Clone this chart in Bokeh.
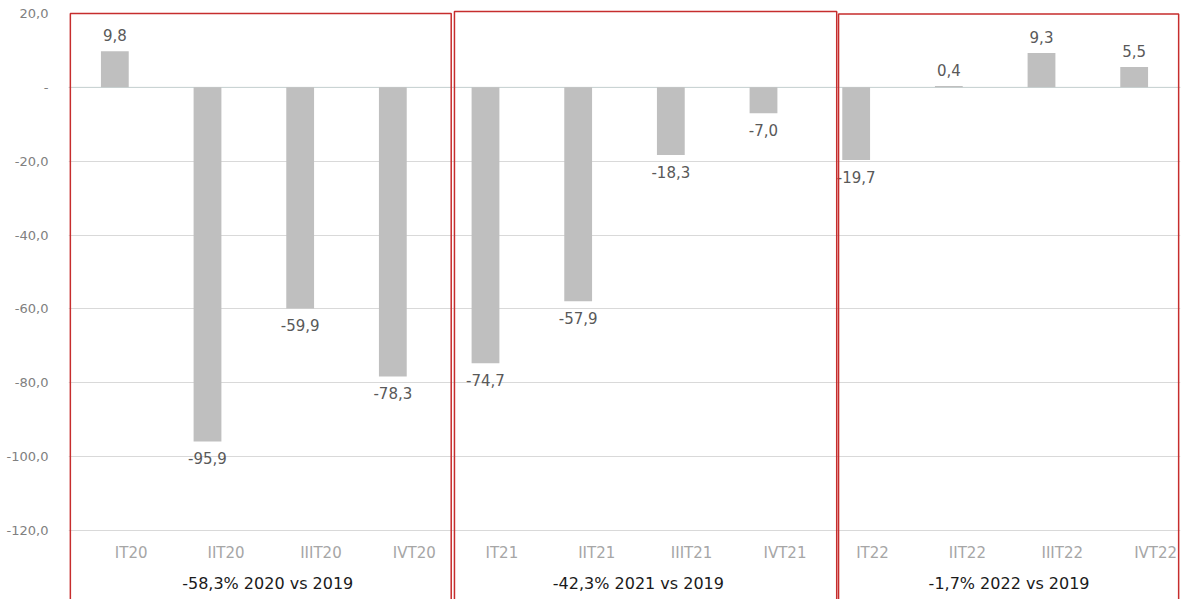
from bokeh.plotting import figure
from bokeh.models import Range1d, FixedTicker, ColumnDataSource
from bokeh.embed import file_html
from bokeh.resources import INLINE
from bokeh.core.properties import value

categories = ["IT20", "IIT20", "IIIT20", "IVT20",
              "IT21", "IIT21", "IIIT21", "IVT21",
              "IT22", "IIT22", "IIIT22", "IVT22"]
values = [9.8, -95.9, -59.9, -78.3,
          -74.7, -57.9, -18.3, -7.0,
          -19.7, 0.4, 9.3, 5.5]
group_labels = ["-58,3% 2020 vs 2019", "-42,3% 2021 vs 2019", "-1,7% 2022 vs 2019"]
y_ticks = [20, 0, -20, -40, -60, -80, -100, -120]
y_tick_labels = ["20,0", "-", "-20,0", "-40,0", "-60,0", "-80,0", "-100,0", "-120,0"]

FONT = "DejaVu Sans"
n = len(categories)
xc = [i + 0.5 for i in range(n)]


def fmt(v):
    return f"{v:.1f}".replace(".", ",")


p = figure(width=1187, height=599, output_backend="svg", toolbar_location=None,
           x_range=Range1d(0, n), y_range=Range1d(-138.68, 21.354),
           min_border_left=68, min_border_right=7, min_border_top=8, min_border_bottom=0)
p.outline_line_color = None
p.xaxis.visible = False
p.xgrid.visible = False
p.ygrid.ticker = FixedTicker(ticks=[t for t in y_ticks if t != 20])
p.ygrid.grid_line_color = "#d9d9d9"
p.ygrid.grid_line_width = 1

ax = p.yaxis[0]
ax.ticker = FixedTicker(ticks=y_ticks)
ax.major_label_overrides = {t: l for t, l in zip(y_ticks, y_tick_labels)}
ax.axis_line_color = None
ax.major_tick_line_color = None
ax.minor_tick_line_color = None
ax.major_label_standoff = 14
ax.major_label_text_font = FONT
ax.major_label_text_font_size = "13px"
ax.major_label_text_color = "#808080"

# zero line
p.line(x=[0, n], y=[0, 0], line_color="#c8d3d3", line_width=1)

src = ColumnDataSource(dict(x=xc, top=values, cat=categories, base=[-126.2] * n))
p.vbar(x="x", top="top", bottom=0, width=0.30, source=src,
       fill_color="#bfbfbf", line_color=None)

pos = ColumnDataSource(dict(x=[x for x, v in zip(xc, values) if v >= 0],
                            y=[v + 2.7 for v in values if v >= 0],
                            t=[fmt(v) for v in values if v >= 0]))
neg = ColumnDataSource(dict(x=[x for x, v in zip(xc, values) if v < 0],
                            y=[v - 2.9 for v in values if v < 0],
                            t=[fmt(v) for v in values if v < 0]))
p.text(x="x", y="y", text="t", source=pos, text_align="center", text_baseline="bottom",
       text_font=value(FONT), text_font_size="15px", text_color="#595959")
p.text(x="x", y="y", text="t", source=neg, text_align="center", text_baseline="top",
       text_font=value(FONT), text_font_size="15px", text_color="#595959")

# category labels
p.text(x="x", y="base", text="cat", source=src, text_align="left", text_baseline="middle",
       text_font=value(FONT), text_font_size="15px", text_color="#a6a6a6")

# group labels
gx = [4 * g + 2 + 0.15 for g in range(3)]
p.text(x=gx, y=[-134.3] * 3, text=group_labels, text_align="center", text_baseline="middle",
       text_font=value(FONT), text_font_size="16px", text_color="#1a1a1a")

# red group boxes
p.quad(left=[0.02, 4.165, 8.31], right=[4.13, 8.29, 11.98],
       top=[20, 20.54, 19.86], bottom=[-142, -142, -142],
       fill_color=None, line_color="#c62d2d", line_width=1.5)

open("out.html", "w").write(file_html(p, INLINE))
